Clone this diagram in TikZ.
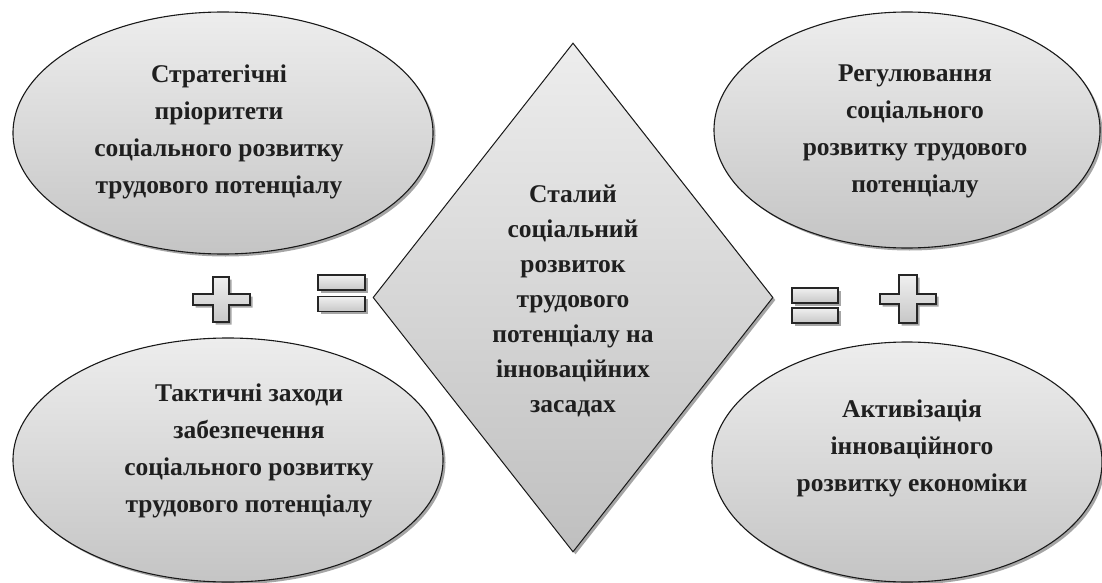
\documentclass[tikz,border=0pt]{standalone}
\usepackage{fontspec}
\setmainfont{Liberation Serif}
\usetikzlibrary{shapes.geometric,shadows}
\tikzset{
  shd/.style={drop shadow={shadow xshift=2.5pt, shadow yshift=-2.5pt, fill=black!70, opacity=0.5}},
  blob/.style={ellipse, draw=black!90, line width=1.1pt, top color=black!7, bottom color=black!23, inner sep=0pt, shd},
  rhomb/.style={diamond, draw=black!90, line width=1pt, top color=black!7, bottom color=black!25, inner sep=0pt, shd},
  bar/.style={rectangle, draw=black!85, line width=1.2pt, top color=black!6, bottom color=black!22, inner sep=0pt, shd},
  signfill/.style={draw=black!85, line width=1.2pt, top color=black!6, bottom color=black!22, shd},
  lbl/.style={align=center, text=black!88, font=\bfseries\fontsize{25.5}{37}\selectfont, inner sep=0pt},
  lbld/.style={align=center, text=black!88, font=\bfseries\fontsize{25.5}{35}\selectfont, inner sep=0pt}
}
\begin{document}
\begin{tikzpicture}[x=1pt,y=-1pt]
\useasboundingbox (0,0) rectangle (1102,583);
% shapes
\node[blob, minimum width=420pt, minimum height=242pt] (tl) at (223,133) {};
\node[blob, minimum width=430pt, minimum height=244pt] (bl) at (228,460) {};
\node[blob, minimum width=386pt, minimum height=236pt] (tr) at (907,130) {};
\node[blob, minimum width=390pt, minimum height=240pt] (br) at (907,462) {};
\node[rhomb, minimum width=400pt, minimum height=509pt] (dm) at (573,297.5) {};
% plus signs
\path[signfill] (213,277) -- (229,277) -- (229,294) -- (250,294) -- (250,305) -- (229,305) -- (229,322) -- (213,322) -- (213,305) -- (193,305) -- (193,294) -- (213,294) -- cycle;
\path[signfill] (899,275) -- (917,275) -- (917,294) -- (936,294) -- (936,304) -- (917,304) -- (917,323) -- (899,323) -- (899,304) -- (880,304) -- (880,294) -- (899,294) -- cycle;
% equals signs
\node[bar, minimum width=47pt, minimum height=15pt] (eqL1) at (341.5,282.5) {};
\node[bar, minimum width=47pt, minimum height=15pt] (eqL2) at (341.5,304) {};
\node[bar, minimum width=46pt, minimum height=15pt] (eqR1) at (815,295.5) {};
\node[bar, minimum width=46pt, minimum height=15pt] (eqR2) at (815,315.5) {};
% texts
\node[lbl] (tlT) at (219,132) {Стратегічні\\пріоритети\\соціального розвитку\\трудового потенціалу};
\node[lbl] (blT) at (249,451) {Тактичні заходи\\забезпечення\\соціального розвитку\\трудового потенціалу};
\node[lbl] (trT) at (915,131) {Регулювання\\соціального\\розвитку трудового\\потенціалу};
\node[lbl] (brT) at (912,448) {Активізація\\інноваційного\\розвитку економіки};
\node[lbld] (dmT) at (573,301) {Сталий\\соціальний\\розвиток\\трудового\\потенціалу на\\інноваційних\\засадах};
\end{tikzpicture}
\end{document}
